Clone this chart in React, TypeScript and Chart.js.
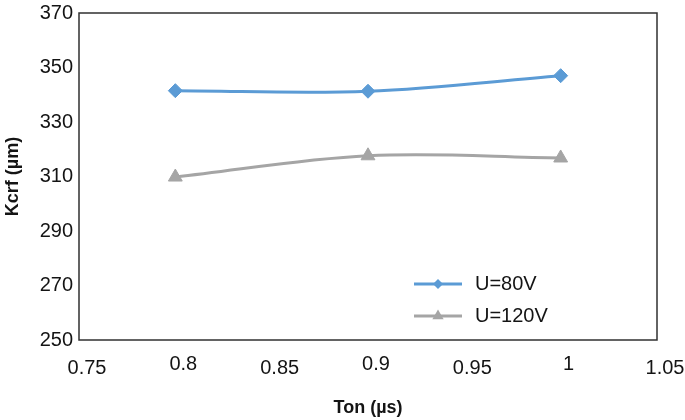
import React, { useEffect, useRef } from "react";
import { Chart, registerables } from "chart.js";

Chart.register(...registerables);

const xValues = [0.8, 0.9, 1.0];
const seriesNames = ["U=80V", "U=120V"];
const u80 = [341.5, 341.3, 347.0];
const u120 = [309.8, 317.6, 316.8];
const xTicks = [0.75, 0.8, 0.85, 0.9, 0.95, 1, 1.05];
const xTickLabels = ["0.75", "0.8", "0.85", "0.9", "0.95", "1", "1.05"];
const yTicks = [250, 270, 290, 310, 330, 350, 370];

const FONT = "'Liberation Sans', Arial, Helvetica, sans-serif";
const TEXT = "#141414";
const BLUE = "#5b9bd5";
const GRAY = "#a5a5a5";

const boxAndLegend = {
  id: "boxAndLegend",
  afterDatasetsDraw(chart: any) {
    const { ctx, chartArea } = chart;
    const { left, right, top, bottom } = chartArea;
    ctx.save();
    ctx.strokeStyle = "#303030";
    ctx.lineWidth = 1.5;
    ctx.strokeRect(left, top, right - left, bottom - top);

    const rows = [bottom - 56, bottom - 24];
    const x0 = right - 243;
    const x1 = right - 195;
    chart.data.datasets.forEach((ds: any, i: number) => {
      const y = rows[i];
      ctx.strokeStyle = ds.borderColor;
      ctx.lineWidth = 3;
      ctx.beginPath();
      ctx.moveTo(x0, y);
      ctx.lineTo(x1, y);
      ctx.stroke();
      ctx.fillStyle = ds.borderColor;
      const cx = (x0 + x1) / 2;
      ctx.beginPath();
      if (ds.pointStyle === "rectRot") {
        const r = 5;
        ctx.moveTo(cx - r, y);
        ctx.lineTo(cx, y - r);
        ctx.lineTo(cx + r, y);
        ctx.lineTo(cx, y + r);
      } else {
        const r = 6.5;
        ctx.moveTo(cx, y - r);
        ctx.lineTo(cx + r * 0.866, y + r * 0.5);
        ctx.lineTo(cx - r * 0.866, y + r * 0.5);
      }
      ctx.closePath();
      ctx.fill();
      ctx.fillStyle = TEXT;
      ctx.font = `20px ${FONT}`;
      ctx.textBaseline = "middle";
      ctx.textAlign = "left";
      ctx.fillText(ds.label, right - 182, y);
    });
    ctx.restore();
  },
};

export default function App() {
  const ref = useRef<HTMLCanvasElement | null>(null);

  useEffect(() => {
    if (!ref.current) return;
    const chart = new Chart(ref.current, {
      type: "line",
      data: {
        datasets: [
          {
            label: seriesNames[0],
            data: xValues.map((x, i) => ({ x, y: u80[i] })),
            borderColor: BLUE,
            backgroundColor: BLUE,
            borderWidth: 3,
            pointStyle: "rectRot",
            pointRadius: 7,
            pointBorderWidth: 1,
            tension: 0.35,
          },
          {
            label: seriesNames[1],
            data: xValues.map((x, i) => ({ x, y: u120[i] })),
            borderColor: GRAY,
            backgroundColor: GRAY,
            borderWidth: 3,
            pointStyle: "triangle",
            pointRadius: 8,
            pointBorderWidth: 1,
            tension: 0.35,
          },
        ],
      },
      options: {
        animation: false,
        responsive: true,
        maintainAspectRatio: false,
        layout: { padding: { top: 13, right: 28, left: 0, bottom: 0 } },
        plugins: {
          legend: { display: false },
          tooltip: { enabled: false },
        },
        scales: {
          x: {
            type: "linear",
            min: 0.75,
            max: 1.05,
            afterBuildTicks: (s: any) => {
              s.ticks = xTicks.map((v) => ({ value: v }));
            },
            afterFit: (s: any) => {
              s.height = 80;
              s.paddingLeft = 0;
              s.paddingRight = 0;
            },
            grid: { display: false, drawTicks: false },
            border: { display: false },
            ticks: {
              color: TEXT,
              padding: 22,
              labelOffset: 8,
              maxRotation: 0,
              autoSkip: false,
              font: { family: FONT, size: 20, lineHeight: "4px" },
              callback: (v: any) => {
                const idx = xTicks.findIndex((t) => Math.abs(t - Number(v)) < 1e-6);
                const lab = idx >= 0 ? xTickLabels[idx] : String(v);
                return idx % 2 === 0 ? ["", lab] : lab;
              },
            },
            title: {
              display: true,
              text: "Ton (µs)",
              color: TEXT,
              font: { family: FONT, size: 18, weight: "bold" },
              padding: { top: 0, bottom: 1 },
            },
          },
          y: {
            min: 250,
            max: 370,
            afterBuildTicks: (s: any) => {
              s.ticks = yTicks.map((v) => ({ value: v }));
            },
            afterFit: (s: any) => {
              s.width = 79;
              s.paddingTop = 0;
              s.paddingBottom = 0;
            },
            grid: { display: false, drawTicks: false },
            border: { display: false },
            ticks: {
              color: TEXT,
              padding: 6,
              font: { family: FONT, size: 20 },
            },
            title: {
              display: true,
              text: "Kcrf (µm)",
              color: TEXT,
              font: { family: FONT, size: 18, weight: "bold" },
              padding: { top: 2, bottom: 0 },
            },
          },
        },
      },
      plugins: [boxAndLegend],
    });
    return () => chart.destroy();
  }, []);

  return (
    <div style={{ position: "absolute", left: 0, top: 0, width: 685, height: 420 }}>
      <canvas ref={ref} />
    </div>
  );
}
